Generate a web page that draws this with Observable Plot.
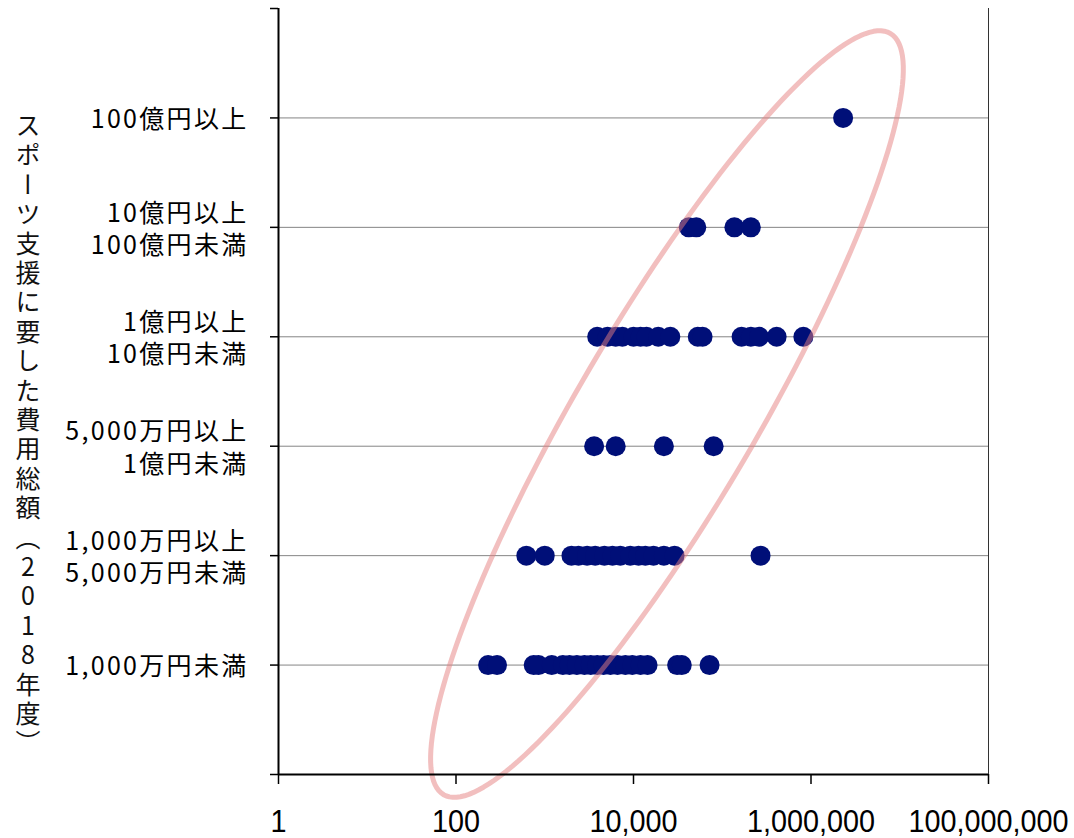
<!DOCTYPE html>
<html><head><meta charset="utf-8">
<script src="https://cdn.jsdelivr.net/npm/d3@7"></script>
<script src="https://cdn.jsdelivr.net/npm/@observablehq/plot@0.6"></script>
<style>
body{margin:0;background:#fff;}
#wrap{position:relative;width:1074px;height:838px;}
#ytitle{position:absolute;left:15px;top:113px;writing-mode:vertical-rl;text-orientation:upright;font-family:"Noto Sans CJK JP";font-size:25px;letter-spacing:4.4px;color:#111;line-height:1;}
</style></head><body><div id="wrap"><div id="ytitle">スポーツ支援に要した費用総額（2018年度）</div></div>
<script>
// Category labels, bottom (level 1) to top (level 6)
const categories = [
  "1,000万円未満",
  "1,000万円以上\n5,000万円未満",
  "5,000万円以上\n1億円未満",
  "1億円以上\n10億円未満",
  "10億円以上\n100億円未満",
  "100億円以上"
];
// Values per category (x, log scale)
const row1 = [230, 290, 750, 850, 1200, 1600, 1900, 2300, 2800, 3300, 3900, 4600, 5500, 6600, 8100, 9700, 12000, 14400, 31000, 35000, 72000];
const row2 = [620, 1000, 2000, 2400, 3000, 3700, 4700, 5800, 7100, 9200, 11400, 13600, 16800, 22000, 29000, 270000];
const row3 = [3600, 6300, 22000, 80000];
const row4 = [3900, 5100, 6300, 7500, 10000, 12000, 14000, 19000, 26000, 53000, 60000, 165000, 210000, 260000, 410000, 820000];
const row5 = [42000, 51000, 137000, 210000];
const row6 = [2300000];
const xTicks = [1, 100, 10000, 1000000, 100000000];

// Ellipse annotation, in data units (log10 of x, category level)
const ellipseCenter = [4.377, 3.294];
const ellipseAxisU = [2.517, 3.478];
const ellipseAxisV = [0.871, -0.415];

const rows = [row1, row2, row3, row4, row5, row6];
const points = rows.flatMap((vals, i) => vals.map(v => ({value: v, level: i + 1})));

const ellipse = d3.range(0, 361, 2).map(deg => {
  const t = deg * Math.PI / 180;
  const lx = ellipseCenter[0] + ellipseAxisU[0] * Math.cos(t) + ellipseAxisV[0] * Math.sin(t);
  const ly = ellipseCenter[1] + ellipseAxisU[1] * Math.cos(t) + ellipseAxisV[1] * Math.sin(t);
  return {x: Math.pow(10, lx), y: ly};
});

const chart = Plot.plot({
  width: 1074,
  height: 838,
  marginLeft: 278,
  marginRight: 86,
  marginTop: 8,
  marginBottom: 64,
  style: {fontFamily: "'Noto Sans CJK JP', sans-serif", color: "#000", background: "#fff"},
  x: {type: "log", domain: [1, 1e8]},
  y: {domain: [0, 7]},
  marks: [
    Plot.ruleY([1, 2, 3, 4, 5, 6], {stroke: "#858585", strokeWidth: 1}),
    Plot.dot(points, {x: "value", y: "level", r: 10, fill: "#000f78", stroke: "none"}),
    Plot.line(ellipse, {x: "x", y: "y", stroke: "#e58080", strokeOpacity: 0.5, strokeWidth: 5, curve: "linear"}),
    Plot.ruleX([1e8], {stroke: "#333", strokeWidth: 1}),
    Plot.ruleX([1], {stroke: "#000", strokeWidth: 2}),
    Plot.ruleY([0], {stroke: "#000", strokeWidth: 2}),
    Plot.axisY({
      ticks: d3.range(0, 8),
      tickSize: 8,
      tickPadding: 22,
      strokeWidth: 1.5,
      fontSize: 25,
      lineHeight: 1.3,
      fontFamily: "Noto Sans CJK JP",
      tickFormat: d => (d >= 1 && d <= 6) ? categories[d - 1] : "",
      label: null
    }),
    Plot.axisX({
      ticks: xTicks,
      tickSize: 10,
      tickPadding: 25,
      strokeWidth: 1.5,
      fontSize: 32,
      fontFamily: "Liberation Sans",
      tickFormat: d3.format(","),
      label: null
    })
  ]
});

document.getElementById("wrap").appendChild(chart);
chart.style.position = "absolute";
chart.style.left = "0";
chart.style.top = "0";
document.getElementById("ytitle").style.zIndex = "2";

// style tweaks: letter spacing for Japanese labels, condensed x labels
chart.querySelectorAll('g[aria-label="y-axis tick label"] text').forEach(t => t.style.letterSpacing = "2.3px");
chart.querySelectorAll('g[aria-label="x-axis tick label"] text').forEach(t => {
  let tr = t.getAttribute("transform");
  if (!tr) {
    const x = t.getAttribute("x") || 0, y = t.getAttribute("y") || 0;
    t.removeAttribute("x"); t.removeAttribute("y");
    tr = `translate(${x},${y})`;
  }
  t.setAttribute("transform", tr + " scale(0.9,1)");
});
</script></body></html>
